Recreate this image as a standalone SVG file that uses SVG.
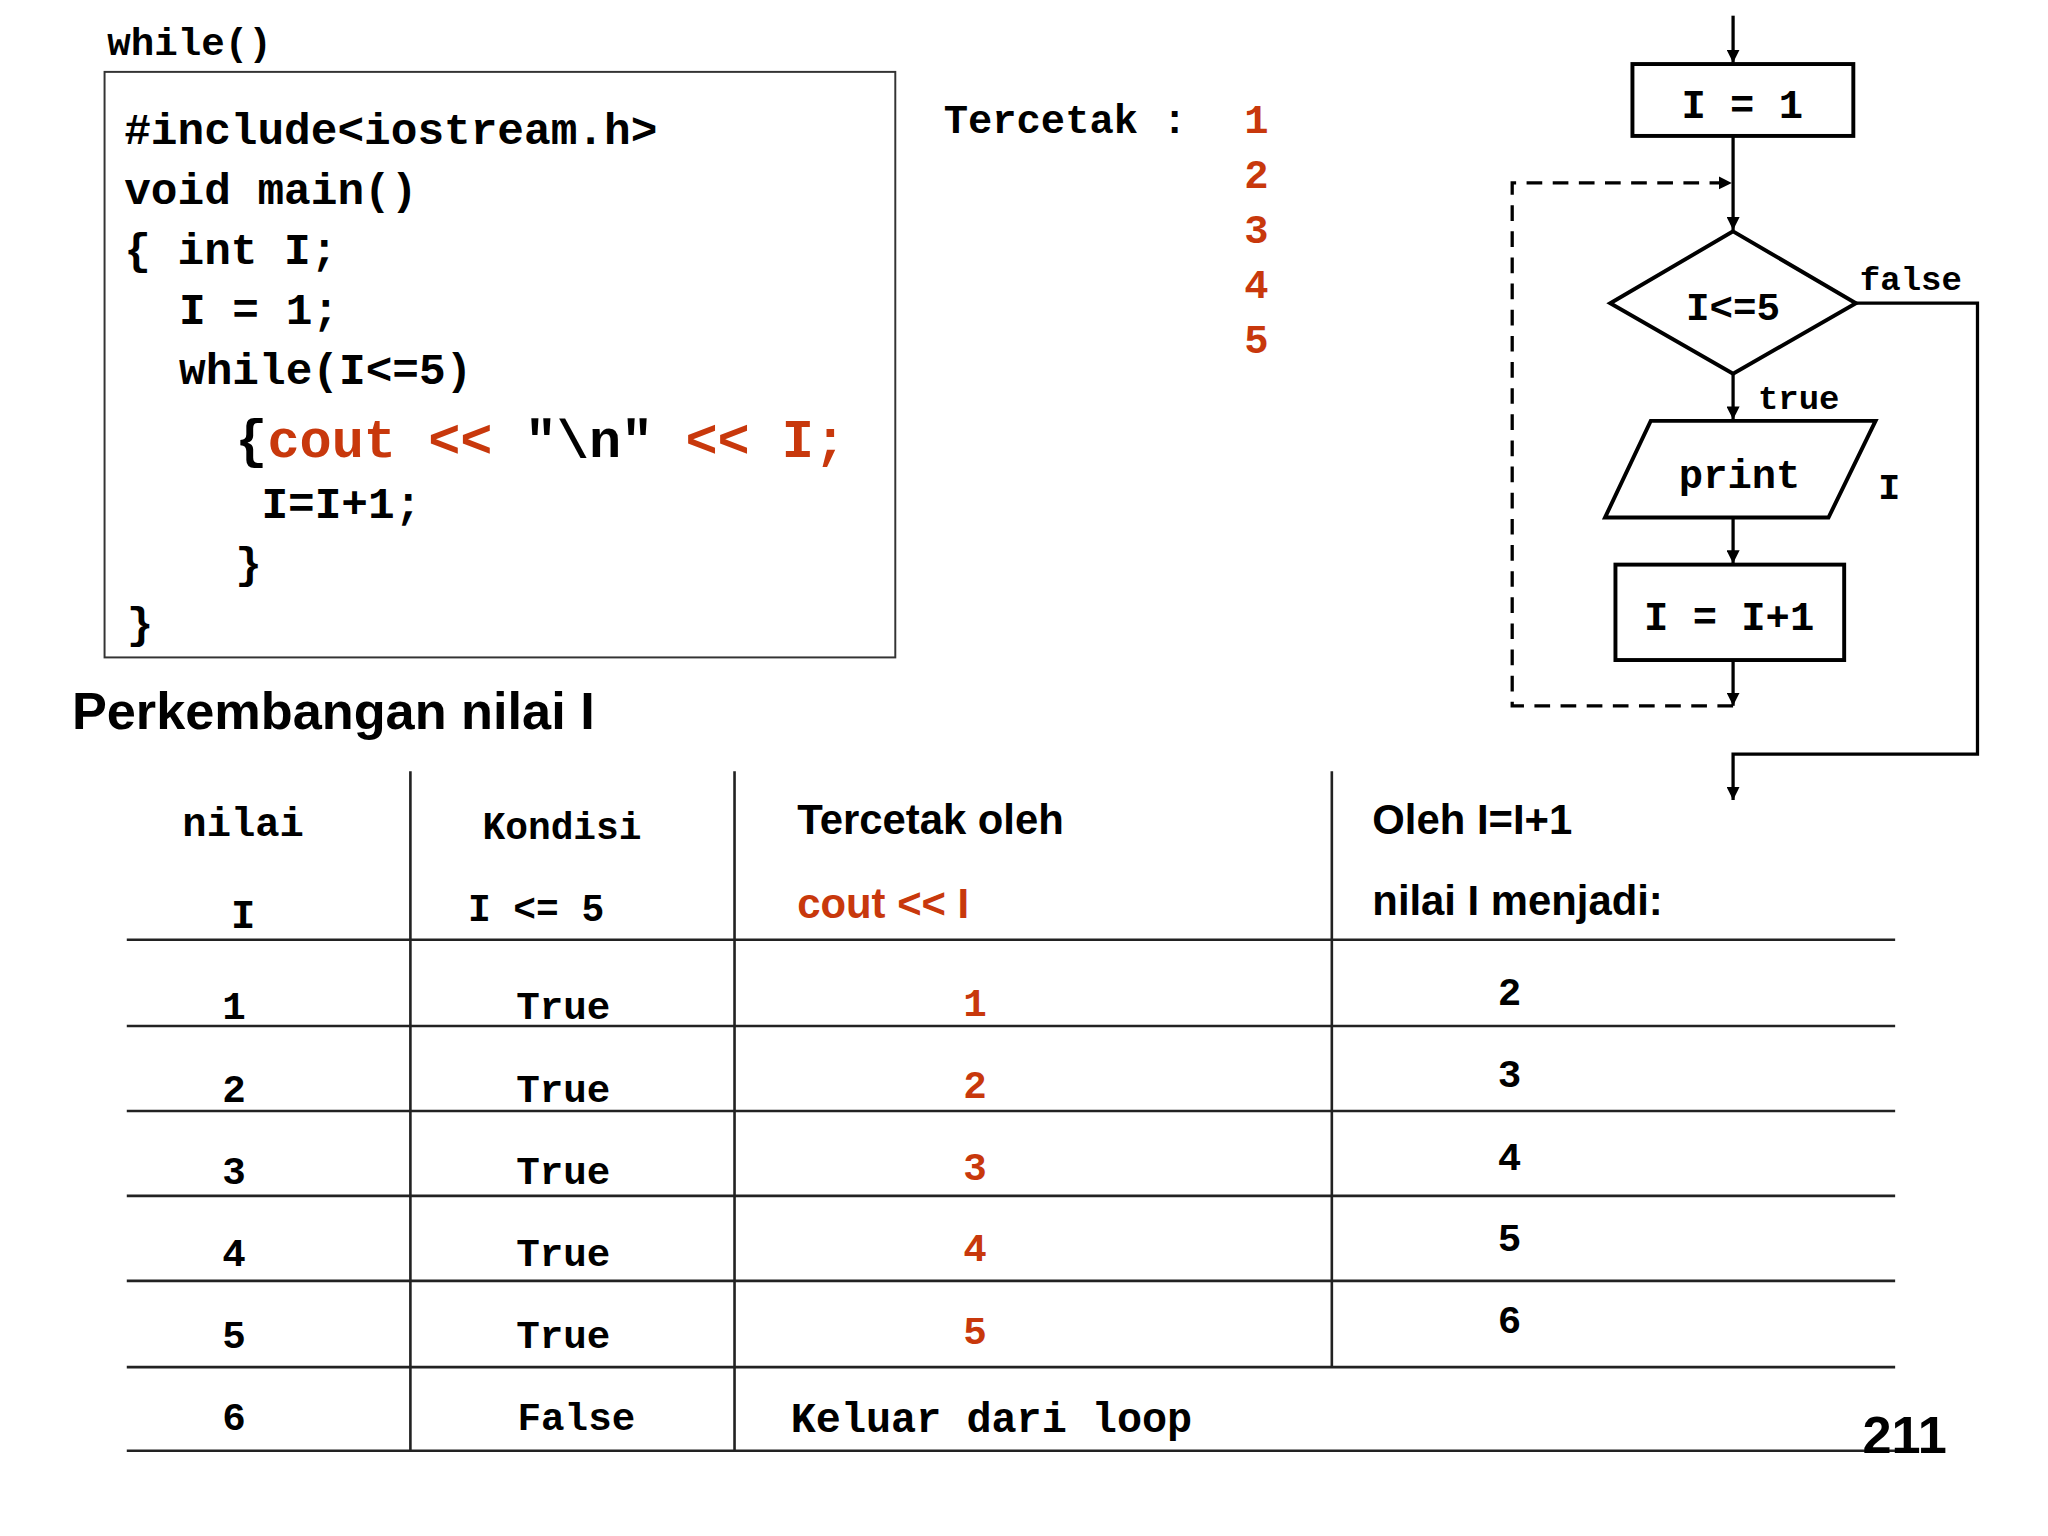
<svg xmlns="http://www.w3.org/2000/svg" width="2048" height="1536" viewBox="0 0 2048 1536">
<defs>
<marker id="ah" viewBox="0 0 10 10" refX="10" refY="5" markerWidth="10" markerHeight="10" markerUnits="userSpaceOnUse" orient="auto"><path d="M0,0 L10,5 L0,10 z" fill="#000"/></marker>
<style>
.m{font-family:"Liberation Mono","Courier New",monospace;font-weight:bold;fill:#000}
.r{fill:#c8380c}
.c{font-family:"Liberation Sans",Arial,sans-serif;font-weight:bold;fill:#000}
.ln{stroke:#000;stroke-width:2.5;fill:none}
.sh{stroke:#000;stroke-width:3;fill:#fff}
.tl{stroke:#222;stroke-width:2}
</style>
</defs>
<rect width="2048" height="1536" fill="#fff"/>
<g transform="scale(1.307)">
<g id="code">
<text class="m" x="82" y="42" font-size="30">while()</text>
<rect x="80" y="55" width="605" height="448" fill="none" stroke="#333" stroke-width="1.5"/>
<g class="m" font-size="34" xml:space="preserve">
<text x="95" y="110">#include&lt;iostream.h&gt;</text>
<text x="95" y="156">void main()</text>
<text x="95" y="202">{ int I;</text>
<text x="137" y="248">I = 1;</text>
<text x="137" y="294">while(I&lt;=5)</text>
<text x="180" y="350" font-size="41">{<tspan class="r">cout &lt;&lt; </tspan>"\n"<tspan class="r"> &lt;&lt; I;</tspan></text>
<text x="200" y="396">I=I+1;</text>
<text x="180" y="442">}</text>
<text x="97" y="488">}</text>
</g>
</g>
<g id="output" class="m" font-size="31">
<text x="722" y="102" xml:space="preserve">Tercetak : </text>
<text x="952" y="102" fill="#c8380c" style="fill:#c8380c">1</text><text x="952" y="144" style="fill:#c8380c">2</text><text x="952" y="186" style="fill:#c8380c">3</text><text x="952" y="228" style="fill:#c8380c">4</text><text x="952" y="270" style="fill:#c8380c">5</text>
</g>
<text class="c" x="55" y="558" font-size="40">Perkembangan nilai I</text>
<g id="connectors">
<line class="ln" x1="1326" y1="12" x2="1326" y2="48" marker-end="url(#ah)"/>
<line class="ln" x1="1326" y1="104" x2="1326" y2="176" marker-end="url(#ah)"/>
<polyline class="ln" stroke-dasharray="12,8" points="1326,540 1157,540 1157,140 1325,140" marker-end="url(#ah)"/>
<polyline class="ln" points="1420,232 1513,232 1513,577 1326,577 1326,612" marker-end="url(#ah)"/>
<line class="ln" x1="1326" y1="286" x2="1326" y2="321" marker-end="url(#ah)"/>
<line class="ln" x1="1326" y1="396" x2="1326" y2="431" marker-end="url(#ah)"/>
<line class="ln" x1="1326" y1="505" x2="1326" y2="540" marker-end="url(#ah)"/>
<text class="m" x="1423" y="222" font-size="26">false</text>
<text class="m" x="1345" y="313" font-size="26">true</text>
</g>
<g id="n_init"><rect class="sh" x="1249" y="49" width="169" height="55"/><text class="m" x="1333" y="90" font-size="31" text-anchor="middle" xml:space="preserve">I = 1</text></g>
<g id="n_cond"><polygon class="sh" points="1326,177 1420,232 1326,286 1232,232"/><text class="m" x="1326" y="245" font-size="30" text-anchor="middle">I&lt;=5</text></g>
<g id="n_print"><polygon class="sh" points="1263,322 1435,322 1399,396 1228,396"/><text class="m" x="1331" y="373" font-size="31" text-anchor="middle">print</text><text class="m" x="1437" y="382" font-size="28">I</text></g>
<g id="n_inc"><rect class="sh" x="1236" y="432" width="175" height="73"/><text class="m" x="1323" y="482" font-size="31" text-anchor="middle" xml:space="preserve">I = I+1</text></g>
<g id="table">
<g class="tl">
<line x1="314" y1="590" x2="314" y2="1110"/><line x1="562" y1="590" x2="562" y2="1110"/><line x1="1019" y1="590" x2="1019" y2="1046"/>
<line x1="97" y1="719" x2="1450" y2="719"/><line x1="97" y1="785" x2="1450" y2="785"/><line x1="97" y1="850" x2="1450" y2="850"/><line x1="97" y1="915" x2="1450" y2="915"/><line x1="97" y1="980" x2="1450" y2="980"/><line x1="97" y1="1046" x2="1450" y2="1046"/><line x1="97" y1="1110" x2="1450" y2="1110"/>
</g>
<g class="m" font-size="31">
<text x="186" y="640" text-anchor="middle">nilai</text><text x="186" y="710" text-anchor="middle">I</text>
<text x="430" y="642" text-anchor="middle" font-size="29">Kondisi</text><text x="358" y="705" font-size="29" xml:space="preserve">I &lt;= 5</text>
</g>
<text class="c" x="610" y="638" font-size="32">Tercetak oleh</text>
<text class="c" x="610" y="702" font-size="32" style="fill:#c8380c">cout &lt;&lt; I</text>
<text class="c" x="1050" y="638" font-size="32">Oleh I=I+1</text>
<text class="c" x="1050" y="700" font-size="32">nilai I menjadi:</text>
<g class="m" font-size="30" text-anchor="middle">
<text x="179" y="780">1</text><text x="179" y="843">2</text><text x="179" y="906">3</text><text x="179" y="969">4</text><text x="179" y="1031">5</text><text x="179" y="1094">6</text>
<text x="431" y="780">True</text><text x="431" y="843">True</text><text x="431" y="906">True</text><text x="431" y="969">True</text><text x="431" y="1031">True</text><text x="441" y="1094">False</text>
<text x="746" y="777" style="fill:#c8380c">1</text><text x="746" y="840" style="fill:#c8380c">2</text><text x="746" y="903" style="fill:#c8380c">3</text><text x="746" y="965" style="fill:#c8380c">4</text><text x="746" y="1028" style="fill:#c8380c">5</text>
<text x="1155" y="769">2</text><text x="1155" y="832">3</text><text x="1155" y="895">4</text><text x="1155" y="957">5</text><text x="1155" y="1020">6</text>
</g>
<text class="m" x="605" y="1096" font-size="32" xml:space="preserve">Keluar dari loop</text>
</g>
<text x="1425" y="1112" font-family="Liberation Sans,sans-serif" font-weight="bold" font-size="40">211</text>
</g>
</svg>
